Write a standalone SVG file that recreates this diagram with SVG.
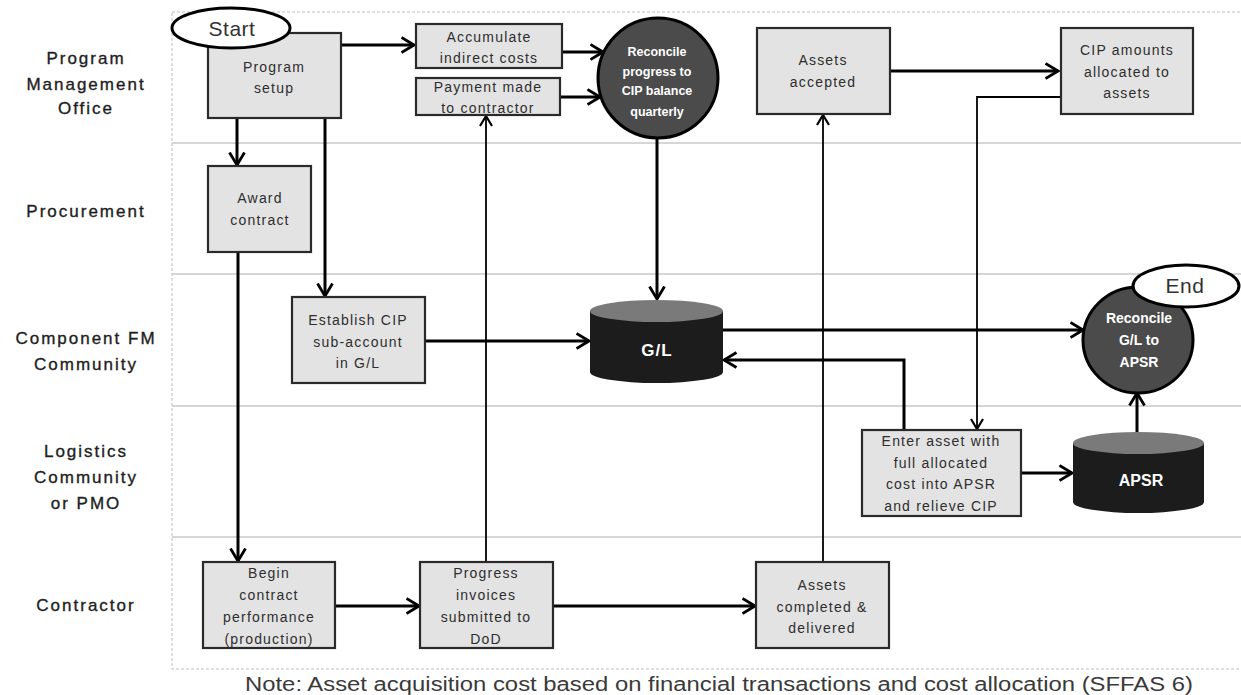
<svg xmlns="http://www.w3.org/2000/svg" width="1241" height="695" viewBox="0 0 1241 695">
<style>
.lane{font-family:"Liberation Sans",Arial,sans-serif;font-size:17px;letter-spacing:2px;fill:#1e1e1e;stroke:#1e1e1e;stroke-width:0.35;text-anchor:middle}
.box{fill:#e3e3e3;stroke:#2a2a2a;stroke-width:2.2}
.bt{font-family:"Liberation Sans",Arial,sans-serif;font-size:14px;letter-spacing:1.2px;fill:#2e2e2e;text-anchor:middle}
.ct{font-family:"Liberation Sans",Arial,sans-serif;font-weight:bold;fill:#fff;text-anchor:middle}
.circ{fill:#4b4b4b;stroke:#000;stroke-width:3}
.term{fill:#fff;stroke:#000;stroke-width:3}
.tt{font-family:"Liberation Sans",Arial,sans-serif;font-size:21px;fill:#333;text-anchor:middle;letter-spacing:0.5px}
.cylb{fill:#1c1c1c}
.cylt{fill:#7a7a7a}
.thick{fill:none;stroke:#000;stroke-width:3;marker-end:url(#ah)}
.thin{fill:none;stroke:#000;stroke-width:1.8;marker-end:url(#ahs)}
.sep{stroke:#c8c8c8;stroke-width:1.5}
</style>
<defs>
<marker id="ah" viewBox="0 0 15 18" refX="13.5" refY="9" markerWidth="15" markerHeight="18" markerUnits="userSpaceOnUse" orient="auto">
<path d="M1,1.5 L13.5,9 L1,16.5" fill="none" stroke="#000" stroke-width="2.8"/>
</marker>
<marker id="ahs" viewBox="0 0 12 14" refX="11" refY="7" markerWidth="12" markerHeight="14" markerUnits="userSpaceOnUse" orient="auto">
<path d="M1,1 L11,7 L1,13" fill="none" stroke="#000" stroke-width="2.2"/>
</marker>
</defs>
<rect x="0" y="0" width="1241" height="695" fill="#fff"/>
<g id="lanes">
<rect x="172" y="12" width="1080" height="657" fill="none" stroke="#bdbdbd" stroke-width="1" stroke-dasharray="3 2"/>
<line class="sep" x1="172" y1="143" x2="1241" y2="143"/>
<line class="sep" x1="172" y1="274" x2="1241" y2="274"/>
<line class="sep" x1="172" y1="406" x2="1241" y2="406"/>
<line class="sep" x1="172" y1="537" x2="1241" y2="537"/>
<text class="lane" x="86" y="64">Program</text>
<text class="lane" x="86" y="90">Management</text>
<text class="lane" x="86" y="114">Office</text>
<text class="lane" x="86" y="217">Procurement</text>
<text class="lane" x="86" y="344">Component FM</text>
<text class="lane" x="86" y="370">Community</text>
<text class="lane" x="86" y="457">Logistics</text>
<text class="lane" x="86" y="483">Community</text>
<text class="lane" x="86" y="509">or PMO</text>
<text class="lane" x="86" y="611">Contractor</text>
</g>
<g id="connectors">
<path class="thick" d="M341,45 H414"/>
<path class="thick" d="M237,118 V165"/>
<path class="thick" d="M325,118 V296"/>
<path class="thick" d="M562,52 H603"/>
<path class="thick" d="M560,97 H600"/>
<path class="thick" d="M657,138 V299"/>
<path class="thick" d="M425,341 H589"/>
<path class="thick" d="M723,330 H1083"/>
<path class="thick" d="M904,430 V360 H724"/>
<path class="thick" d="M1021,473 H1072"/>
<path class="thick" d="M1137,432 V393"/>
<path class="thick" d="M890,71 H1058"/>
<path class="thin" d="M1061,97 H977 V429"/>
<path class="thick" d="M238,252 V561"/>
<path class="thick" d="M335,606 H419"/>
<path class="thin" d="M486,562 V116"/>
<path class="thick" d="M553,606 H755"/>
<path class="thin" d="M823,562 V115"/>
</g>
<g id="program-setup">
<rect class="box" x="208" y="33" width="133" height="85"/>
<text class="bt" x="274" y="72">Program</text>
<text class="bt" x="274" y="93">setup</text>
</g>
<g id="start">
<ellipse class="term" cx="231" cy="28" rx="59" ry="20"/>
<text class="tt" x="232" y="36">Start</text>
</g>
<g id="accumulate">
<rect class="box" x="416" y="24" width="146" height="44"/>
<text class="bt" x="489" y="42">Accumulate</text>
<text class="bt" x="489" y="63">indirect costs</text>
</g>
<g id="payment">
<rect class="box" x="416" y="78" width="144" height="37"/>
<text class="bt" x="488" y="92">Payment made</text>
<text class="bt" x="488" y="113">to contractor</text>
</g>
<g id="reconcile-progress">
<circle class="circ" cx="658" cy="78" r="60"/>
<text class="ct" x="657" y="56" font-size="12.5">Reconcile</text>
<text class="ct" x="657" y="76" font-size="12.5">progress to</text>
<text class="ct" x="657" y="95" font-size="12.5">CIP balance</text>
<text class="ct" x="657" y="116" font-size="12.5">quarterly</text>
</g>
<g id="assets-accepted">
<rect class="box" x="757" y="28" width="133" height="86"/>
<text class="bt" x="823" y="65">Assets</text>
<text class="bt" x="823" y="87">accepted</text>
</g>
<g id="cip-amounts">
<rect class="box" x="1061" y="28" width="132" height="86"/>
<text class="bt" x="1127" y="55">CIP amounts</text>
<text class="bt" x="1127" y="77">allocated to</text>
<text class="bt" x="1127" y="98">assets</text>
</g>
<g id="award">
<rect class="box" x="208" y="166" width="103" height="86"/>
<text class="bt" x="260" y="203">Award</text>
<text class="bt" x="260" y="225">contract</text>
</g>
<g id="establish">
<rect class="box" x="292" y="297" width="133" height="86"/>
<text class="bt" x="358" y="325">Establish CIP</text>
<text class="bt" x="358" y="347">sub-account</text>
<text class="bt" x="358" y="368">in G/L</text>
</g>
<g id="gl">
<path class="cylb" d="M590,311 V372 A66.5,11 0 0 0 723,372 V311 Z"/>
<ellipse class="cylt" cx="656.5" cy="311" rx="66.5" ry="11"/>
<text class="ct" x="657" y="356" font-size="17" letter-spacing="1">G/L</text>
</g>
<g id="reconcile-gl">
<ellipse class="circ" cx="1138" cy="340" rx="55" ry="53"/>
<text class="ct" x="1139" y="323" font-size="14">Reconcile</text>
<text class="ct" x="1139" y="345" font-size="14">G/L to</text>
<text class="ct" x="1139" y="367" font-size="14">APSR</text>
</g>
<g id="end">
<ellipse class="term" cx="1186" cy="286" rx="53" ry="21"/>
<text class="tt" x="1185" y="293">End</text>
</g>
<g id="enter-asset">
<rect class="box" x="862" y="430" width="159" height="86"/>
<text class="bt" x="941" y="446">Enter asset with</text>
<text class="bt" x="941" y="468">full allocated</text>
<text class="bt" x="941" y="489">cost into APSR</text>
<text class="bt" x="941" y="511">and relieve CIP</text>
</g>
<g id="apsr">
<path class="cylb" d="M1073,443 V502 A65.5,11 0 0 0 1204,502 V443 Z"/>
<ellipse class="cylt" cx="1138.5" cy="443" rx="65.5" ry="11"/>
<text class="ct" x="1141" y="486" font-size="16">APSR</text>
</g>
<g id="begin">
<rect class="box" x="203" y="562" width="132" height="86"/>
<text class="bt" x="269" y="578">Begin</text>
<text class="bt" x="269" y="600">contract</text>
<text class="bt" x="269" y="622">performance</text>
<text class="bt" x="269" y="644">(production)</text>
</g>
<g id="progress-invoices">
<rect class="box" x="420" y="562" width="133" height="86"/>
<text class="bt" x="486" y="578">Progress</text>
<text class="bt" x="486" y="600">invoices</text>
<text class="bt" x="486" y="622">submitted to</text>
<text class="bt" x="486" y="644">DoD</text>
</g>
<g id="assets-completed">
<rect class="box" x="756" y="562" width="133" height="86"/>
<text class="bt" x="822" y="590">Assets</text>
<text class="bt" x="822" y="612">completed &amp;</text>
<text class="bt" x="822" y="633">delivered</text>
</g>
<g id="note">
<text x="245" y="691" font-family="'Liberation Sans',Arial,sans-serif" font-size="20" fill="#3a3a3a" textLength="948" lengthAdjust="spacingAndGlyphs">Note:  Asset acquisition cost based on financial transactions and cost allocation (SFFAS 6)</text>
</g>
</svg>
